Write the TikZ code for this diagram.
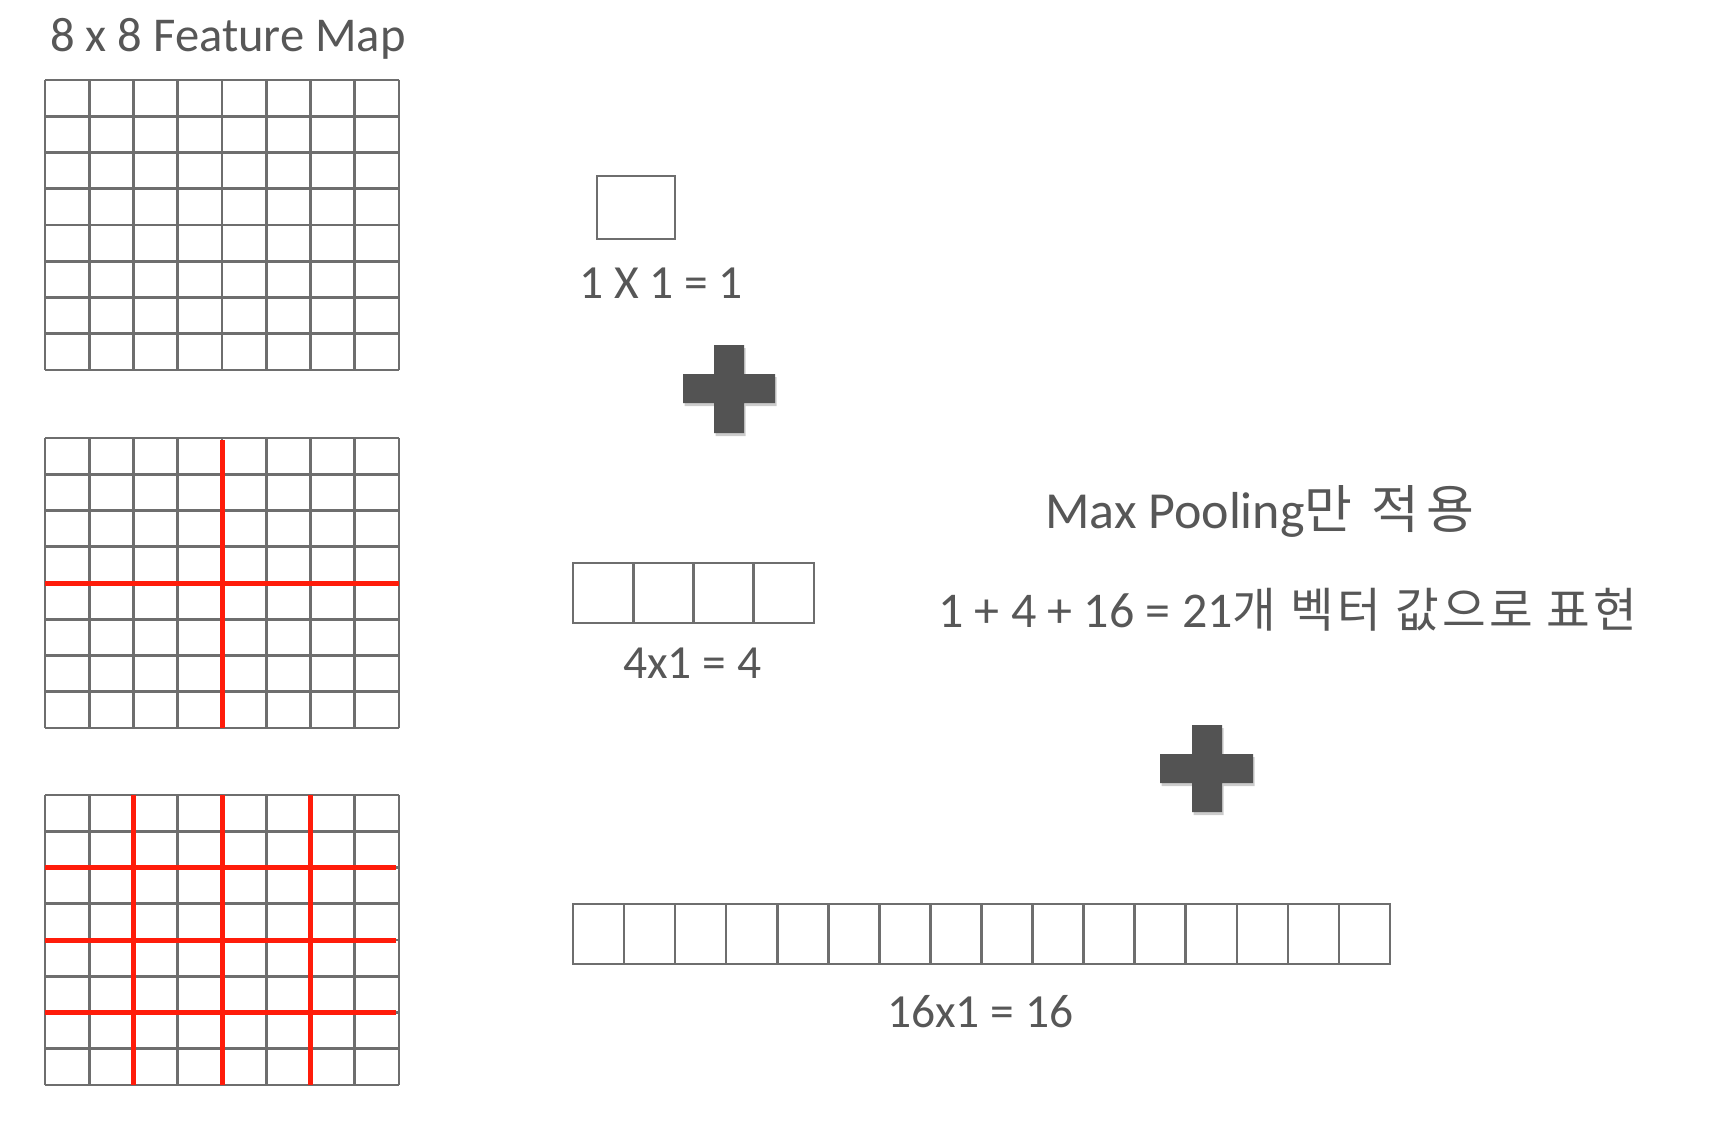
\documentclass[tikz,border=0pt]{standalone}
\usepackage{fontspec}
\setmainfont{Carlito}
\newfontfamily\kr{Noto Sans CJK KR}[Scale=0.95,LetterSpace=7]
\newfontfamily\krb{Noto Sans CJK KR}[Scale=1.0,LetterSpace=14]
\usetikzlibrary{shadows}
\definecolor{gline}{HTML}{6E6E6E}
\definecolor{txt}{HTML}{575757}
\definecolor{redl}{RGB}{255,28,10}
\definecolor{plusc}{HTML}{535353}
\tikzset{
  gl/.style={draw=gline, line width=2.6pt},
  rl/.style={draw=redl, line width=5pt},
  lbl/.style={anchor=base west, inner sep=0pt, text=txt, font=\fontsize{47.5}{50}\selectfont},
  titl/.style={lbl, font=\fontsize{48.6}{51}\selectfont},
  bigl/.style={lbl, font=\fontsize{52}{55}\selectfont},
  suml/.style={lbl, font=\fontsize{50}{53}\selectfont},
  plusfill/.style={fill=plusc, drop shadow={shadow xshift=1.5pt, shadow yshift=-3pt, opacity=0.2, fill=black}}
}
\begin{document}
\begin{tikzpicture}[x=1pt,y=-1pt]
\useasboundingbox (0,0) rectangle (1732,1126);
\fill[white] (0,0) rectangle (1732,1126);

% three 8x8 grids
\foreach \t in {80,438,795}{
  \foreach \i in {0,...,8}{
    \draw[gl] ({45+\i*44.25},\t) -- ({45+\i*44.25},\t+290);
  }
  \foreach \j in {0,...,8}{
    \draw[gl] (45,{\t+\j*36.25}) -- (399,{\t+\j*36.25});
  }
}
% red partition of grid 2 (2x2)
\draw[rl] (222,440) -- (222,728);
\draw[rl] (45,583) -- (399,583);
% red partition of grid 3 (4x4)
\foreach \x in {133.5,222,310.5}{
  \draw[rl] (\x,795) -- (\x,1085);
}
\foreach \y in {867.5,940,1012.5}{
  \draw[rl] (45,\y) -- (396,\y);
}

% 1x1 bin
\draw[gl] (597,176) rectangle (675,239);
% 4x1 bins
\draw[gl] (573,563) rectangle (814,623);
\foreach \i in {1,2,3}{
  \draw[gl] ({573+\i*60.25},563) -- ({573+\i*60.25},623);
}
% 16x1 bins
\draw[gl] (573,904) rectangle (1390,964);
\foreach \i in {1,...,15}{
  \draw[gl] ({573+\i*51.0625},904) -- ({573+\i*51.0625},964);
}

% plus signs
\fill[plusfill] (714,345) -- (744,345) -- (744,374) -- (775,374) -- (775,403) -- (744,403)
  -- (744,433) -- (714,433) -- (714,403) -- (683,403) -- (683,374) -- (714,374) -- cycle;
\fill[plusfill] (1192,725) -- (1222,725) -- (1222,754) -- (1253,754) -- (1253,783) -- (1222,783)
  -- (1222,812) -- (1192,812) -- (1192,783) -- (1160,783) -- (1160,754) -- (1192,754) -- cycle;

% labels
\node[titl] (title) at (50,52) {8 x 8 Feature Map};
\node[lbl] (one) at (579,298) {1 X 1 = 1};
\node[lbl] (four) at (623,678) {4x1 = 4};
\node[lbl] (sixteen) at (887,1027) {16x1 = 16};
\node[bigl] (mp) at (1045,528) {Max Pooling{\krb 만 적용}};
\node[suml] (sum) at (938,627) {1 + 4 + 16 = 21{\kr 개 벡터 값으로 표현}};
\end{tikzpicture}
\end{document}
